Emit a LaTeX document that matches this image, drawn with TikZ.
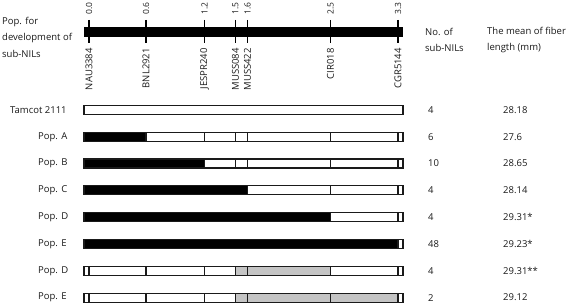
\documentclass[tikz,border=0pt]{standalone}
\usepackage{fontspec}
\setmainfont{Open Sans}
\definecolor{segfill}{HTML}{C4C4C4}
\definecolor{ink}{HTML}{1A1A1A}
\newcommand\barseg[4]{\filldraw[barline,fill=#4] (#1,#3-4.5) rectangle (#2,#3+4.5);}
\begin{document}
\begin{tikzpicture}[x=1pt,y=-1pt,
  lbl/.style={font=\fontsize{9.5}{12}\selectfont, inner sep=0pt, text=ink},
  small/.style={font=\fontsize{8.5}{10}\selectfont, inner sep=0pt, text=ink},
  barline/.style={draw=ink, line width=1.2pt},
  tick/.style={draw=black, line width=1.6pt}]
\useasboundingbox (0,0) rectangle (567,304);
% headers
\node[lbl, anchor=west, align=left, font=\fontsize{9.5}{16.5}\selectfont] (hpop) at (2,37) {Pop. for\\development of\\sub-NILs};
\node[lbl, anchor=west, align=left, font=\fontsize{9.5}{16}\selectfont] (hno) at (425,40) {No. of\\sub-NILs};
\node[lbl, anchor=west, align=left, font=\fontsize{9.5}{16}\selectfont] (hmean) at (487,40) {The mean of fiber\\length (mm)};
% chromosome
\fill[black] (84,27) rectangle (403,37);
\foreach \x/\d/\n in {89/0.0/NAU3384, 146/0.6/BNL2921, 204.5/1.2/JESPR240, 235.5/1.5/MUSS084, 247.5/1.6/MUSS422, 330.5/2.5/CIR018, 398/3.3/CGR5144}{
  \draw[tick] (\x,20) -- (\x,43);
  \node[small, rotate=90, anchor=west] (d\n) at (\x,15) {\d};
  \node[lbl, rotate=90, anchor=east] (m\n) at (\x,48) {\n};
}
% rows: labels
\node[lbl, anchor=west] (l0) at (10,110) {Tamcot 2111};
\node[lbl, anchor=west] (l1) at (38,136.8) {Pop. A};
\node[lbl, anchor=west] (l2) at (38,163.6) {Pop. B};
\node[lbl, anchor=west] (l3) at (38,190.4) {Pop. C};
\node[lbl, anchor=west] (l4) at (38,217.2) {Pop. D};
\node[lbl, anchor=west] (l5) at (38,244) {Pop. E};
\node[lbl, anchor=west] (l6) at (38,270.8) {Pop. D};
\node[lbl, anchor=west] (l7) at (38,297.6) {Pop. E};
% counts and means
\foreach \i/\y/\c/\v in {0/110/4/28.18, 1/136.8/6/27.6, 2/163.6/10/28.65, 3/190.4/4/28.14, 4/217.2/4/29.31*, 5/244/48/29.23*, 6/270.8/4/29.31**, 7/297.6/2/29.12}{
  \node[lbl, anchor=west] (c\i) at (428,\y) {\c};
  \node[lbl, anchor=west] (v\i) at (503,\y) {\v};
}
% Tamcot 2111
\barseg{84}{403}{110}{white}
% Pop. A
\barseg{84}{146}{136.8}{black}
\barseg{146}{204.5}{136.8}{white}
\barseg{204.5}{235.5}{136.8}{white}
\barseg{235.5}{247.5}{136.8}{white}
\barseg{247.5}{330.5}{136.8}{white}
\barseg{330.5}{398}{136.8}{white}
\barseg{398}{403}{136.8}{white}
% Pop. B
\barseg{84}{204.5}{163.6}{black}
\barseg{204.5}{235.5}{163.6}{white}
\barseg{235.5}{247.5}{163.6}{white}
\barseg{247.5}{330.5}{163.6}{white}
\barseg{330.5}{398}{163.6}{white}
\barseg{398}{403}{163.6}{white}
% Pop. C
\barseg{84}{247.5}{190.4}{black}
\barseg{247.5}{330.5}{190.4}{white}
\barseg{330.5}{398}{190.4}{white}
\barseg{398}{403}{190.4}{white}
% Pop. D
\barseg{84}{330.5}{217.2}{black}
\barseg{330.5}{398}{217.2}{white}
\barseg{398}{403}{217.2}{white}
% Pop. E
\barseg{84}{398}{244}{black}
\barseg{398}{403}{244}{white}
% Pop. D (2)
\barseg{84}{89}{270.8}{white}
\barseg{89}{146}{270.8}{white}
\barseg{146}{204.5}{270.8}{white}
\barseg{204.5}{235.5}{270.8}{white}
\barseg{235.5}{247.5}{270.8}{segfill}
\barseg{247.5}{330.5}{270.8}{segfill}
\barseg{330.5}{398}{270.8}{white}
\barseg{398}{403}{270.8}{white}
% Pop. E (2)
\barseg{84}{89}{297.6}{white}
\barseg{89}{146}{297.6}{white}
\barseg{146}{204.5}{297.6}{white}
\barseg{204.5}{235.5}{297.6}{white}
\barseg{235.5}{247.5}{297.6}{segfill}
\barseg{247.5}{330.5}{297.6}{segfill}
\barseg{330.5}{398}{297.6}{segfill}
\barseg{398}{403}{297.6}{white}
\end{tikzpicture}
\end{document}
